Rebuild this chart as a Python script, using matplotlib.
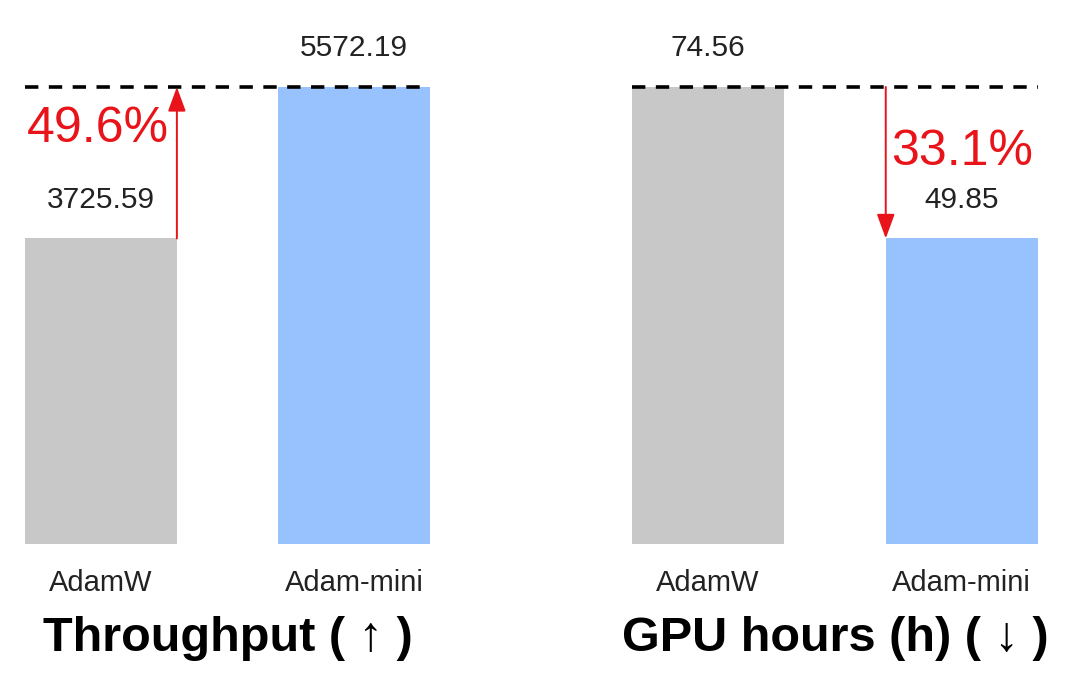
import matplotlib
matplotlib.use("Agg")
import matplotlib.pyplot as plt

plt.rcParams['font.family'] = ['Liberation Sans', 'DejaVu Sans']

# data
optimizers = ['AdamW', 'Adam-mini']
throughput = [3725.59, 5572.19]
gpu_hours = [74.56, 49.85]
titles = ['Throughput ( \u2191 )', 'GPU hours (h) ( \u2193 )']
changes = ['49.6%', '33.1%']

colors = ['#c8c8c8', '#98c2fd']
red = '#e8141a'
W, H = 1080, 684

fig = plt.figure(figsize=(10.8, 6.84), dpi=100)

def px_axes(x0, x1, ytop, ybot):
    return fig.add_axes([x0 / W, (H - ybot) / H, (x1 - x0) / W, (ybot - ytop) / H])

def panel(ax, vals, title, change, up):
    top = max(vals)
    low = min(vals)
    ax.bar([0, 1], vals, width=0.6, color=colors)
    ax.set_xlim(-0.3, 1.3)
    ax.set_ylim(0, top)
    ax.axis('off')
    ax.axhline(top, color='black', lw=2.6, ls=(0, (3.7, 2.9)), clip_on=False)
    for i, v in enumerate(vals):
        ax.annotate(f'{v:.2f}', (i, v), xytext=(0, 28), textcoords='offset points',
                    ha='center', va='center', fontsize=21.5, color='#222222',
                    annotation_clip=False)
        ax.annotate(optimizers[i], (i, 0), xytext=(0, -28), textcoords='offset points',
                    ha='center', va='center', fontsize=21, color='#222222',
                    annotation_clip=False)
    ax.text(0.5, -0.207, title, transform=ax.transAxes, ha='center', va='center',
            fontsize=35, fontweight='bold')
    arrow = dict(arrowstyle='-|>,head_length=1.5,head_width=0.55',
                 color=red, lw=1.4, shrinkA=0, shrinkB=0)
    if up:
        xa = 0.3
        ax.annotate('', xy=(xa, top), xytext=(xa, low), arrowprops=arrow,
                    annotation_clip=False)
        ax.annotate(change, (xa, top), xytext=(-6, -30), textcoords='offset points',
                    ha='right', va='center', fontsize=36, color=red,
                    annotation_clip=False)
    else:
        xa = 0.7
        ax.annotate('', xy=(xa, low), xytext=(xa, top), arrowprops=arrow,
                    annotation_clip=False)
        ax.annotate(change, (xa, top), xytext=(4, -47), textcoords='offset points',
                    ha='left', va='center', fontsize=36, color=red,
                    annotation_clip=False)

ax1 = px_axes(25, 430, 87, 544)
panel(ax1, throughput, titles[0], changes[0], True)
ax2 = px_axes(632, 1038, 87, 544)
panel(ax2, gpu_hours, titles[1], changes[1], False)

fig.savefig('out.png', dpi=100, facecolor='white')
